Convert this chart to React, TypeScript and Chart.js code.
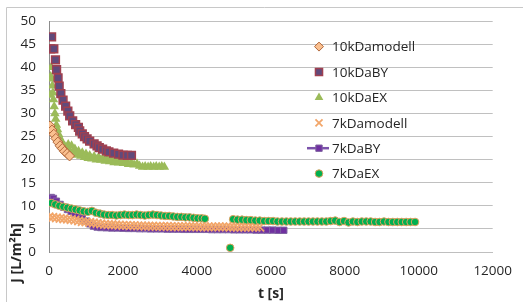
import React, { useEffect, useRef } from "react";
import { Chart, registerables } from "chart.js";
import { drawPoint } from "chart.js/helpers";

Chart.register(...registerables);

const seriesNames = ["10kDamodell", "10kDaBY", "10kDaEX", "7kDamodell", "7kDaBY", "7kDaEX"];
const xTicks = [0, 2000, 4000, 6000, 8000, 10000, 12000];
const yTicks = [0, 5, 10, 15, 20, 25, 30, 35, 40, 45, 50];

const model10X = [30, 80, 130, 185, 240, 300, 360, 420, 490, 556];
const model10Y = [27.3, 26.4, 25.5, 24.6, 23.8, 23.0, 22.4, 21.8, 21.3, 20.8];

const by10X = [45, 70, 130, 175, 205, 245, 275, 320, 380, 450, 510, 560, 640, 720, 795, 830, 900, 960, 1030, 1100, 1220, 1300, 1360, 1450, 1550, 1620, 1750, 1880, 2000, 2120, 2230];
const by10Y = [44.0, 46.6, 44.0, 41.6, 39.5, 37.7, 35.9, 34.3, 32.9, 31.6, 30.5, 29.5, 28.4, 27.6, 27.0, 26.2, 25.6, 25.0, 24.5, 24.0, 23.4, 23.0, 22.6, 22.3, 21.9, 21.7, 21.4, 21.2, 21.0, 20.9, 20.9];

const ex10X = [30, 45, 60, 75, 90, 105, 120, 140, 160, 180, 200, 230, 260, 290, 330, 370, 420, 470, 520, 560, 610, 660, 700, 760, 800, 860, 900, 960, 1000, 1060, 1100, 1160, 1220, 1280, 1340, 1400, 1460, 1520, 1580, 1640, 1700, 1760, 1820, 1880, 1950, 2010, 2080, 2150, 2220, 2300, 2380, 2450, 2530, 2600, 2680, 2750, 2830, 2900, 2980, 3050, 3120];
const ex10Y = [34.0, 38.0, 40.0, 37.5, 36.0, 34.5, 33.0, 31.5, 30.0, 28.8, 27.5, 26.5, 25.5, 24.8, 24.0, 23.4, 23.0, 22.6, 23.3, 22.0, 23.0, 21.5, 22.3, 21.0, 21.8, 20.8, 21.5, 20.5, 21.2, 20.3, 20.9, 20.2, 20.7, 20.0, 20.5, 19.9, 20.3, 19.7, 20.1, 19.6, 19.9, 19.4, 19.8, 19.3, 19.6, 19.2, 19.5, 19.0, 19.3, 18.9, 19.1, 18.6, 18.4, 18.5, 18.4, 18.5, 18.4, 18.5, 18.4, 18.5, 18.4];

const model7X = [0, 100, 200, 300, 400, 500, 600, 700, 800, 900, 1000, 1100, 1200, 1300, 1400, 1500, 1600, 1700, 1800, 1900, 2000, 2100, 2200, 2300, 2400, 2500, 2600, 2700, 2800, 2900, 3000, 3100, 3200, 3300, 3400, 3500, 3600, 3700, 3800, 3900, 4000, 4100, 4200, 4300, 4400, 4500, 4600, 4700, 4800, 4900, 5000, 5100, 5200, 5300, 5400, 5500, 5600, 5700];
const model7Y = [7.6, 7.5, 7.4, 7.3, 7.2, 7.1, 7.0, 6.9, 6.75, 6.6, 6.5, 6.4, 6.3, 6.2, 6.1, 6.0, 5.95, 5.9, 5.85, 5.8, 5.78, 5.75, 5.72, 5.7, 5.68, 5.65, 5.62, 5.6, 5.58, 5.56, 5.55, 5.54, 5.53, 5.52, 5.51, 5.5, 5.5, 5.49, 5.48, 5.47, 5.46, 5.45, 5.45, 5.44, 5.44, 5.43, 5.43, 5.42, 5.42, 5.41, 5.41, 5.4, 5.4, 5.4, 5.39, 5.39, 5.38, 5.38];

const by7X = [60, 120, 200, 300, 400, 500, 600, 700, 800, 900, 1000, 1100, 1200, 1300, 1400, 1550, 1700, 1850, 2000, 2150, 2300, 2450, 2600, 2750, 2900, 3050, 3200, 3350, 3500, 3650, 3800, 3950, 4100, 4250, 4400, 4550, 4700, 4850, 5000, 5150, 5300, 5450, 5600, 5750, 5900, 6050, 6200, 6350];
const by7Y = [11.8, 11.6, 11.0, 10.3, 9.7, 9.2, 8.8, 8.4, 7.9, 7.3, 6.7, 6.1, 5.6, 5.4, 5.3, 5.25, 5.2, 5.2, 5.15, 5.1, 5.1, 5.05, 5.05, 5.0, 5.0, 5.0, 4.95, 4.95, 4.95, 4.9, 4.9, 4.9, 4.9, 4.9, 4.85, 4.85, 4.85, 4.85, 4.8, 4.8, 4.8, 4.8, 4.75, 4.75, 4.75, 4.75, 4.7, 4.7];

const ex7X = [60, 170, 280, 390, 500, 610, 720, 830, 940, 1050, 1160, 1270, 1380, 1490, 1600, 1710, 1820, 1930, 2040, 2150, 2260, 2370, 2480, 2590, 2700, 2810, 2920, 3030, 3140, 3250, 3360, 3470, 3580, 3690, 3800, 3910, 4020, 4130, 4215,
  4900,
  4980, 5100, 5220, 5340, 5460, 5580, 5700, 5820, 5940, 6060, 6180, 6300, 6420, 6540, 6660, 6780, 6900, 7020, 7140, 7260, 7380, 7500, 7620, 7740, 7860, 7980, 8100, 8220, 8340, 8460, 8580, 8700, 8820, 8940, 9060, 9180, 9300, 9420, 9540, 9660, 9780, 9900];
const ex7Y = [10.6, 10.3, 10.0, 9.8, 9.6, 9.4, 9.2, 9.0, 8.8, 8.7, 8.9, 8.5, 8.3, 8.1, 8.0, 8.0, 7.9, 8.0, 8.1, 8.0, 8.0, 8.1, 8.0, 7.9, 8.0, 8.1, 8.0, 7.9, 7.8, 7.8, 7.7, 7.6, 7.6, 7.5, 7.5, 7.4, 7.3, 7.3, 7.2,
  0.9,
  7.1, 7.0, 7.0, 6.9, 6.9, 6.8, 6.8, 6.7, 6.7, 6.7, 6.6, 6.6, 6.6, 6.6, 6.6, 6.6, 6.6, 6.6, 6.6, 6.6, 6.6, 6.6, 6.7, 6.8, 6.5, 6.7, 6.4, 6.6, 6.5, 6.6, 6.6, 6.6, 6.5, 6.5, 6.6, 6.5, 6.5, 6.5, 6.5, 6.5, 6.5, 6.5];

const pts = (xs: number[], ys: number[]) => xs.map((x, i) => ({ x, y: ys[i] }));

const FONT = "'Open Sans', sans-serif";
const TEXT = "#262626";

const overlayPlugin = {
  id: "overlay",
  afterDraw(chart: any) {
    const { ctx, chartArea } = chart;
    ctx.save();
    ctx.strokeStyle = "#C8C8C8";
    ctx.lineWidth = 1;
    ctx.beginPath();
    ctx.moveTo(6.5, 302);
    ctx.lineTo(6.5, 7.5);
    ctx.lineTo(523, 7.5);
    ctx.stroke();

    const mx = chartArea.left + 270;
    const tx = chartArea.left + 283;
    const y0 = chartArea.top + 25.5;
    const step = 25.4;
    chart.data.datasets.forEach((ds: any, i: number) => {
      const y = y0 + i * step;
      if (ds.showLine) {
        ctx.strokeStyle = ds.borderColor;
        ctx.lineWidth = 2.5;
        ctx.beginPath();
        ctx.moveTo(mx - 12, y);
        ctx.lineTo(mx + 10, y);
        ctx.stroke();
      }
      ctx.fillStyle = ds.pointBackgroundColor;
      ctx.strokeStyle = ds.pointBorderColor;
      ctx.lineWidth = ds.pointBorderWidth;
      drawPoint(ctx, { pointStyle: ds.pointStyle, radius: ds.legendRadius, rotation: 0, borderWidth: ds.pointBorderWidth }, mx, y);
      ctx.fillStyle = TEXT;
      ctx.font = `13.5px ${FONT}`;
      ctx.textAlign = "left";
      ctx.textBaseline = "middle";
      ctx.fillText(ds.label, tx, y + 1);
    });

    ctx.fillStyle = TEXT;
    ctx.font = `bold 14px ${FONT}`;
    ctx.textAlign = "center";
    ctx.textBaseline = "middle";
    ctx.fillText("t [s]", (chartArea.left + chartArea.right) / 2, 294);
    ctx.translate(17, 253);
    ctx.rotate(-Math.PI / 2);
    ctx.fillText("J [L/m²h]", 0, 0);
    ctx.restore();
  },
};

export default function App() {
  const ref = useRef<HTMLCanvasElement | null>(null);
  useEffect(() => {
    if (!ref.current) return;
    const datasets: any[] = [
      {
        label: seriesNames[0], data: pts(model10X, model10Y), pointStyle: "rectRot", pointRadius: 5, legendRadius: 4.5,
        pointBackgroundColor: "#FAC090", pointBorderColor: "#B0673A", pointBorderWidth: 1, showLine: false, order: 1,
      },
      {
        label: seriesNames[1], data: pts(by10X, by10Y), pointStyle: "rect", pointRadius: 5.5, legendRadius: 5,
        pointBackgroundColor: "#604A7B", pointBorderColor: "#A04050", pointBorderWidth: 1.5, showLine: false, order: 2,
      },
      {
        label: seriesNames[2], data: pts(ex10X, ex10Y), pointStyle: "triangle", pointRadius: 5.5, legendRadius: 5,
        pointBackgroundColor: "#9BBB59", pointBorderColor: "#9BBB59", pointBorderWidth: 0, showLine: false, order: 5,
      },
      {
        label: seriesNames[3], data: pts(model7X, model7Y), pointStyle: "crossRot", pointRadius: 6, legendRadius: 5,
        pointBackgroundColor: "#F6B07A", pointBorderColor: "#F2A66A", pointBorderWidth: 1.8, showLine: false, order: 3,
      },
      {
        label: seriesNames[4], data: pts(by7X, by7Y), pointStyle: "rect", pointRadius: 4.5, legendRadius: 4.5,
        pointBackgroundColor: "#7030A0", pointBorderColor: "#8064A2", pointBorderWidth: 1, showLine: true,
        borderColor: "#7B52AB", borderWidth: 1.2, order: 4,
      },
      {
        label: seriesNames[5], data: pts(ex7X, ex7Y), pointStyle: "circle", pointRadius: 3.8, legendRadius: 3.8,
        pointBackgroundColor: "#00B050", pointBorderColor: "#E0A060", pointBorderWidth: 1, showLine: false, order: 0,
      },
    ];
    const chart = new Chart(ref.current, {
      type: "scatter",
      data: { datasets },
      options: {
        animation: false,
        responsive: false,
        devicePixelRatio: 1,
        layout: { padding: { top: 19, right: 21, left: 0, bottom: 0 } },
        plugins: { legend: { display: false }, tooltip: { enabled: false } },
        elements: { point: { hoverRadius: 0 } },
        scales: {
          x: {
            type: "linear",
            min: xTicks[0],
            max: xTicks[xTicks.length - 1],
            afterBuildTicks: (s: any) => { s.ticks = xTicks.map((v) => ({ value: v })); },
            afterFit: (s: any) => { s.height = 50; },
            grid: { display: false, drawTicks: false },
            border: { display: true, color: "#BFBFBF" },
            ticks: { color: TEXT, font: { family: FONT, size: 13.5 }, padding: 11, maxRotation: 0, callback: (v: any) => String(v) },
          },
          y: {
            type: "linear",
            min: yTicks[0],
            max: yTicks[yTicks.length - 1],
            afterBuildTicks: (s: any) => { s.ticks = yTicks.map((v) => ({ value: v })); },
            afterFit: (s: any) => { s.width = 49; },
            grid: { color: "#C0C0C0", drawTicks: false },
            border: { display: true, color: "#8C8C8C" },
            ticks: { color: TEXT, font: { family: FONT, size: 13.5 }, padding: 13, callback: (v: any) => String(v) },
          },
        },
      },
      plugins: [overlayPlugin],
    } as any);
    return () => chart.destroy();
  }, []);
  return (
    <div style={{ position: "absolute", left: 0, top: 0, width: 523, height: 302, background: "#fff" }}>
      <canvas ref={ref} width={523} height={302} style={{ width: 523, height: 302, display: "block" }} />
    </div>
  );
}
